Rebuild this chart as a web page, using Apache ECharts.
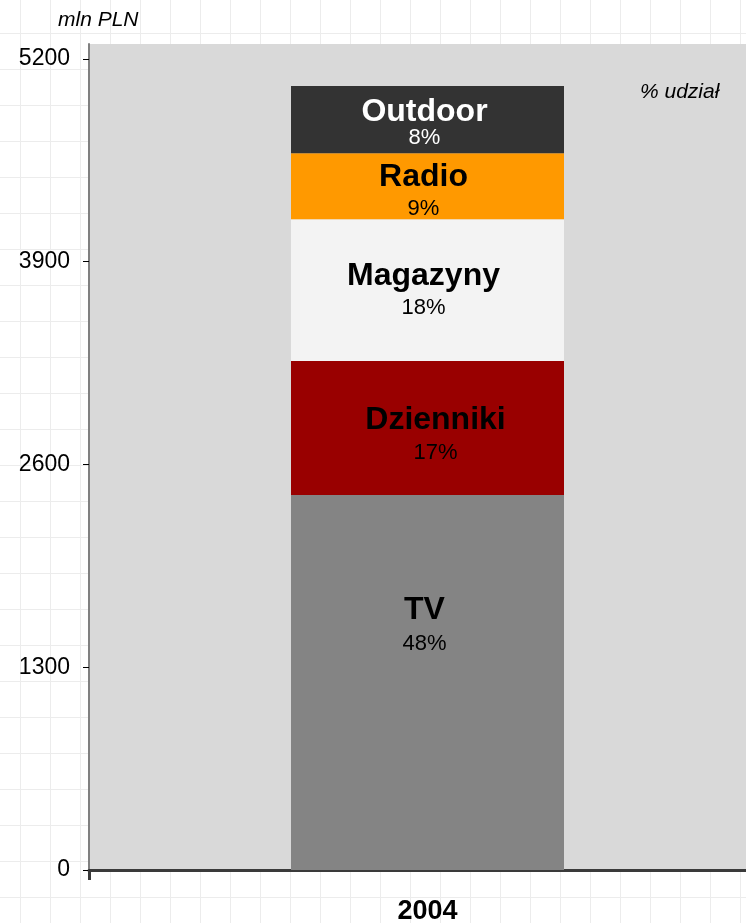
<!DOCTYPE html>
<html>
<head>
<meta charset="utf-8">
<script src="https://cdn.jsdelivr.net/npm/echarts@6/dist/echarts.min.js"></script>
<style>
  html, body { margin: 0; padding: 0; }
  body {
    background-color: #fff;
    background-image:
      linear-gradient(to right, #ececec 1px, transparent 1px),
      linear-gradient(to bottom, #ececec 1px, transparent 1px);
    background-size: 30px 36px;
    background-position: 20px 33px;
  }
  #main { width: 746px; height: 923px; }
</style>
</head>
<body>
<div id="main"></div>
<script>
// dane (mln PLN)
var categories = ["2004"];
var mediaNames = ["TV", "Dzienniki", "Magazyny", "Radio", "Outdoor"];
var mediaValues = [2404, 859, 910, 423, 430];
var mediaShares = ["48%", "17%", "18%", "9%", "8%"];
var yTicks = [0, 1300, 2600, 3900, 5200];

var colors = ["#848484", "#990000", "#f3f3f3", "#ff9900", "#333333"];
var textColors = ["#000", "#000", "#000", "#000", "#fff"];
// przesuniecie etykiet wzgledem srodka segmentu
var labelOffsets = [[-3, -61], [8, 3], [-4, -3], [-4, 2], [-3, 4]];
var nameGaps = [44, 44, 42, 42, 28];
var font = "'Liberation Sans', Arial, sans-serif";

var myChart = echarts.init(document.getElementById("main"), null, { renderer: "canvas" });

var series = mediaNames.map(function (name, i) {
  return {
    name: name,
    type: "bar",
    stack: "all",
    barWidth: 273,
    itemStyle: { color: colors[i] },
    label: {
      show: true,
      position: "inside",
      offset: labelOffsets[i],
      formatter: "{n|" + name + "}\n{p|" + mediaShares[i] + "}",
      rich: {
        n: {
          fontFamily: font,
          fontWeight: "bold",
          fontSize: 32,
          color: textColors[i],
          lineHeight: nameGaps[i]
        },
        p: {
          fontFamily: font,
          fontSize: 22,
          color: textColors[i],
          lineHeight: 22
        }
      }
    },
    data: [mediaValues[i]]
  };
});

var option = {
  animation: false,
  backgroundColor: "transparent",
  grid: {
    left: 89,
    right: -20,
    top: 44,
    bottom: 53,
    outerBoundsMode: "none",
    containLabel: false,
    show: true,
    backgroundColor: "#d9d9d9",
    borderWidth: 0
  },
  xAxis: {
    type: "category",
    data: categories,
    axisLine: { lineStyle: { color: "#3a3a3a", width: 3 } },
    axisTick: { show: true, length: 10, lineStyle: { color: "#3a3a3a", width: 3 } },
    axisLabel: {
      margin: 28,
      fontFamily: font,
      fontWeight: "bold",
      fontSize: 27,
      color: "#000"
    }
  },
  yAxis: {
    type: "value",
    min: 0,
    max: 5296,
    splitLine: { show: false },
    axisLine: { show: true, lineStyle: { color: "#808080", width: 2 } },
    axisTick: {
      show: true,
      length: 6,
      customValues: yTicks,
      lineStyle: { color: "#000", width: 1 }
    },
    axisLabel: {
      customValues: yTicks,
      formatter: function (v) { return String(v); },
      margin: 19,
      fontFamily: font,
      fontSize: 23,
      color: "#000"
    }
  },
  graphic: [
    {
      type: "text",
      left: 58,
      top: 10,
      style: {
        text: "mln PLN",
        font: "italic 21px " + font,
        fill: "#000"
      }
    },
    {
      type: "text",
      left: 640,
      top: 82,
      style: {
        text: "% udział",
        font: "italic 21px " + font,
        fill: "#000"
      }
    }
  ],
  series: series
};

myChart.setOption(option);
</script>
</body>
</html>
